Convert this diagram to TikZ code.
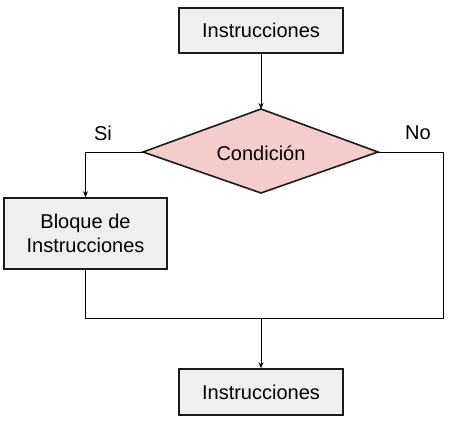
\documentclass[tikz,border=0pt]{standalone}
\usepackage{fontspec}
\setmainfont{Liberation Sans}
\usetikzlibrary{shapes.geometric,arrows.meta}
\definecolor{boxfill}{HTML}{EFEFEF}
\definecolor{diafill}{HTML}{F4CCCC}
\definecolor{edge}{HTML}{1A1A1A}
\begin{document}
\begin{tikzpicture}[x=1pt,y=-1pt,
  procbox/.style={draw=edge,line width=1.6pt,fill=boxfill,inner sep=0pt,align=center,font=\fontsize{20}{24}\selectfont},
  conn/.style={draw=black,line width=0.9pt},
  arr/.style={conn,-{Stealth[length=6pt,width=5pt]}},
  lbl/.style={font=\fontsize{20}{24}\selectfont,inner sep=0pt}]
\useasboundingbox (0,0) rectangle (451,421);
\node[procbox,minimum width=164pt,minimum height=45pt] (top) at (261,30.5) {Instrucciones};
\draw[draw=edge,line width=1.6pt,fill=diafill] (143,152) -- (261,109) -- (378,152) -- (261,193) -- cycle;
\coordinate (dl) at (143,152);
\coordinate (dr) at (378,152);
\coordinate (dt) at (261,109);
\node[lbl] (cond) at (261,153) {Condición};
\node[procbox,minimum width=163pt,minimum height=71pt] (blk) at (85.5,233.5) {Bloque de\\Instrucciones};
\node[procbox,minimum width=164pt,minimum height=46pt] (bot) at (261,392) {Instrucciones};
\node[lbl] (si) at (103,133) {Si};
\node[lbl] (no) at (418,133) {No};
\coordinate (ml) at (85.5,318);
\coordinate (mr) at (443,318);
\coordinate (mc) at (261,318);
\draw[arr] (top.south) -- (dt);
\draw[arr] (dl) -| (blk.north);
\draw[conn] (blk.south) -- (ml) -- (mr) |- (dr);
\draw[arr] (mc) -- (bot.north);
\end{tikzpicture}
\end{document}
